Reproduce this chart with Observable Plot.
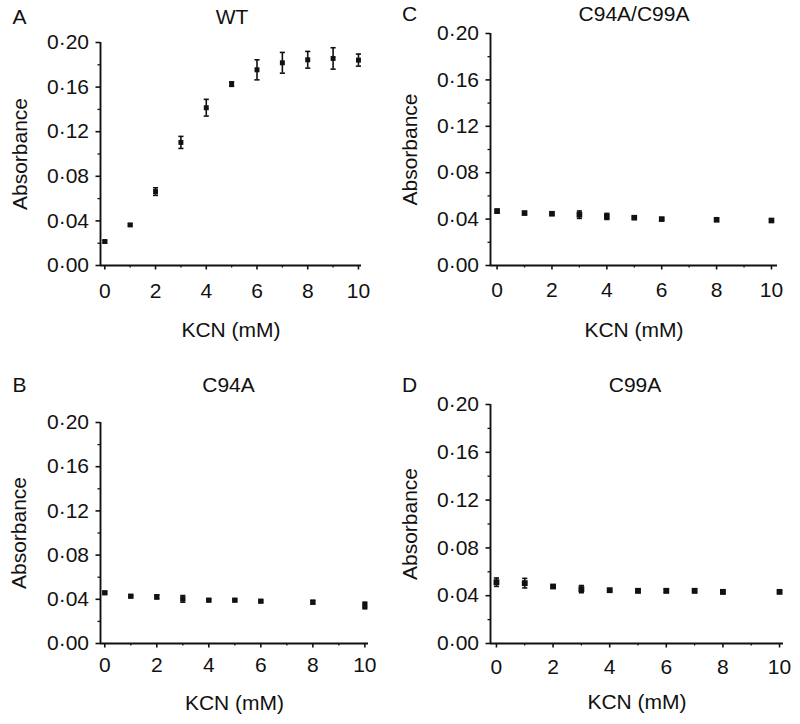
<!DOCTYPE html>
<html><head><meta charset="utf-8">
<script src="https://cdn.jsdelivr.net/npm/d3@7"></script>
<script src="https://cdn.jsdelivr.net/npm/@observablehq/plot@0.6"></script>
<style>
body{margin:0;background:#fff;}
#fig{position:relative;width:800px;height:724px;overflow:hidden;}
#fig svg{position:absolute;overflow:visible;max-width:none;}
</style></head><body><div id="fig"></div>
<script>
// ---- data ----
const kcnWT = [0, 1, 2, 3, 4, 5, 6, 7, 8, 9, 10];
const absWT = [0.0215, 0.0364, 0.0663, 0.1104, 0.1415, 0.1627, 0.1755, 0.1818, 0.1845, 0.1857, 0.1842];
const errWT = [0.001, 0.001, 0.0034, 0.0054, 0.0075, 0.002, 0.009, 0.0093, 0.0075, 0.0096, 0.0054];

const kcnC94A = [0, 1, 2, 3, 4, 5, 6, 8, 10];
const absC94A = [0.0459, 0.0428, 0.0422, 0.0404, 0.0392, 0.0392, 0.0383, 0.0374, 0.0344];
const errC94A = [0.001, 0.001, 0.0018, 0.003, 0.001, 0.001, 0.001, 0.0015, 0.003];

const kcnDouble = [0, 1, 2, 3, 4, 5, 6, 8, 10];
const absDouble = [0.0469, 0.0452, 0.0446, 0.0438, 0.0423, 0.0412, 0.0400, 0.0394, 0.0388];
const errDouble = [0.0015, 0.0012, 0.001, 0.0032, 0.0026, 0.001, 0.001, 0.001, 0.001];

const kcnC99A = [0, 1, 2, 3, 4, 5, 6, 7, 8, 10];
const absC99A = [0.0513, 0.0505, 0.0477, 0.0455, 0.0446, 0.0441, 0.0441, 0.0441, 0.0432, 0.0432];
const errC99A = [0.0035, 0.004, 0.001, 0.003, 0.001, 0.0015, 0.0015, 0.0015, 0.0015, 0.001];

const yTicks = [0, 0.04, 0.08, 0.12, 0.16, 0.20];
const yMinor = [0.02, 0.06, 0.10, 0.14, 0.18];
const xTicks = [0, 2, 4, 6, 8, 10];
const xMinor = [1, 3, 5, 7, 9];
const yLabel = "Absorbance";
const xLabel = "KCN (mM)";

// ---- layout ----
const panels = [
  {letter: "A", title: "WT", kcn: kcnWT, abs: absWT, err: errWT,
   left: 0, top: 0, width: 390, height: 362, mL: 100, mR: 29, mT: 42, mB: 97,
   xdom: [-0.17, 10.12], r: 2.8, xPad: 13, titleDy: -25, titleDx: 1, xlDy: 65, yldx: -80},
  {letter: "C", title: "C94A/C99A", kcn: kcnDouble, abs: absDouble, err: errDouble,
   left: 390, top: 0, width: 410, height: 362, mL: 100, mR: 23, mT: 33, mB: 97,
   xdom: [-0.24, 10.22], r: 3.2, xPad: 12, titleDy: -19, titleDx: 0, xlDy: 65, yldx: -80.5},
  {letter: "B", title: "C94A", kcn: kcnC94A, abs: absC94A, err: errC94A,
   left: 0, top: 362, width: 390, height: 362, mL: 100, mR: 22, mT: 60, mB: 81,
   xdom: [-0.165, 10.14], r: 3.0, xPad: 9, titleDy: -37, titleDx: -6, xlDy: 60, yldx: -81.5},
  {letter: "D", title: "C99A", kcn: kcnC99A, abs: absC99A, err: errC99A,
   left: 390, top: 362, width: 410, height: 362, mL: 100, mR: 17, mT: 42, mB: 81,
   xdom: [-0.21, 10.14], r: 3.3, xPad: 11, titleDy: -19, titleDx: -2, xlDy: 59, yldx: -80.5}
];

const fmt = d => d3.format(".2f")(d).replace(".", "\u00B7");
const capSymbol = {draw(ctx, size) { const w = Math.sqrt(size) / 2; ctx.moveTo(-w, 0); ctx.lineTo(w, 0); }};
const ink = "#111";
const font = "'Liberation Sans', Arial, Helvetica, sans-serif";
const fig = document.getElementById("fig");

for (const p of panels) {
  const data = p.kcn.map((x, i) => ({x, y: p.abs[i], e: p.err[i]}));
  const svg = Plot.plot({
    width: p.width, height: p.height,
    marginLeft: p.mL, marginRight: p.mR, marginTop: p.mT, marginBottom: p.mB,
    style: {fontFamily: font, fontSize: "21px", color: ink, background: "transparent"},
    x: {domain: p.xdom},
    y: {domain: [0, 0.2]},
    marks: [
      Plot.axisY(yTicks, {tickSize: 4.5, tickPadding: 7, tickFormat: fmt, strokeWidth: 1.6, label: null, fontSize: 21, fontFamily: font}),
      Plot.axisY(yMinor, {tickSize: 2.5, fill: "none", strokeWidth: 1.3, label: null}),
      Plot.axisX(xTicks, {tickSize: 4.5, tickPadding: p.xPad, tickFormat: d => String(d), strokeWidth: 1.6, label: null, fontSize: 21, fontFamily: font}),
      Plot.axisX(xMinor, {tickSize: 2.5, fill: "none", strokeWidth: 1.3, label: null}),
      Plot.ruleX([p.xdom[0]], {stroke: ink, strokeWidth: 1.9}),
      Plot.ruleY([0], {stroke: ink, strokeWidth: 1.9}),
      Plot.ruleX(data, {x: "x", y1: d => d.y - d.e, y2: d => d.y + d.e, stroke: ink, strokeWidth: 1.6}),
      Plot.dot(data, {x: "x", y: d => d.y + d.e, symbol: capSymbol, r: 2.9, stroke: ink, fill: "none", strokeWidth: 1.6}),
      Plot.dot(data, {x: "x", y: d => d.y - d.e, symbol: capSymbol, r: 2.9, stroke: ink, fill: "none", strokeWidth: 1.6}),
      Plot.dot(data, {x: "x", y: "y", symbol: "square", r: p.r, fill: ink, stroke: "none"}),
      Plot.text([p.title], {frameAnchor: "top", lineAnchor: "middle", textAnchor: "middle", dy: p.titleDy, dx: p.titleDx, fontSize: 21, fontFamily: font, fill: ink}),
      Plot.text([p.letter], {frameAnchor: "top-left", lineAnchor: "middle", textAnchor: "middle", dy: p.titleDy, dx: -81, fontSize: 21, fontFamily: font, fill: ink}),
      Plot.text([xLabel], {frameAnchor: "bottom", lineAnchor: "middle", textAnchor: "middle", dy: p.xlDy, fontSize: 21, fontFamily: font, fill: ink}),
      Plot.text([yLabel], {frameAnchor: "left", lineAnchor: "middle", textAnchor: "middle", dx: p.yldx, rotate: -90, fontSize: 21, fontFamily: font, fill: ink})
    ]
  });
  svg.style.left = p.left + "px";
  svg.style.top = p.top + "px";
  fig.appendChild(svg);
}
</script>
</body></html>
